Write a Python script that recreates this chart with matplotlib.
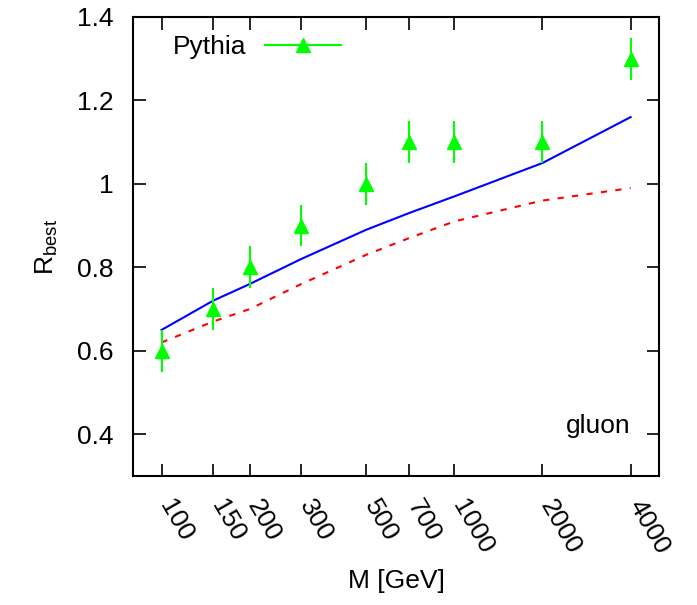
import matplotlib
matplotlib.use('Agg')
import matplotlib.pyplot as plt
import matplotlib.transforms as mtransforms
from matplotlib.lines import Line2D

plt.rcParams['font.family'] = ['Liberation Sans', 'DejaVu Sans']

# masses in GeV
mass = [100, 150, 200, 300, 500, 700, 1000, 2000, 4000]
tick_labels = ['100', '150', '200', '300', '500', '700', '1000', '2000', '4000']

# curves
r_solid = [0.65, 0.72, 0.76, 0.82, 0.89, 0.93, 0.97, 1.05, 1.16]
r_dashed = [0.62, 0.67, 0.70, 0.76, 0.83, 0.87, 0.91, 0.96, 0.99]

# pythia points
r_pythia = [0.60, 0.70, 0.80, 0.90, 1.00, 1.10, 1.10, 1.10, 1.30]
r_pythia_err = [0.05, 0.05, 0.05, 0.05, 0.05, 0.05, 0.05, 0.05, 0.05]

fig = plt.figure(figsize=(6.97, 6.05), dpi=100)
ax = fig.add_axes([0.191, 0.2132, 0.7545, 0.7588])

ax.plot(mass, r_solid, color='#0000ff', lw=1.5)
ax.plot(mass, r_dashed, color='#ff0000', lw=1.5, dashes=(3, 4))
ax.errorbar(mass, r_pythia, yerr=r_pythia_err, fmt='^', color='#00ff00',
            ms=10, elinewidth=1.5, capsize=0)

ax.set_xscale('log')
ax.set_xlim(80, 5000)
ax.set_ylim(0.3, 1.4)
ax.set_xticks(mass)
ax.xaxis.set_minor_locator(matplotlib.ticker.NullLocator())
ax.set_xticklabels(tick_labels, rotation=-60, ha='left', va='top',
                   rotation_mode='anchor')
ax.set_yticks([0.4, 0.6, 0.8, 1.0, 1.2, 1.4])
ax.set_yticklabels(['0.4', '0.6', '0.8', '1', '1.2', '1.4'])
ax.tick_params(direction='in', length=9, width=1.2, top=True, right=True,
               labelsize=19, pad=14)
ax.tick_params(axis='x', pad=14)
for s in ax.spines.values():
    s.set_linewidth(1.5)

# nudge rotated labels right so they start at the tick
shift = mtransforms.ScaledTranslation(10 / 72, 0, fig.dpi_scale_trans)
for lbl in ax.get_xticklabels():
    lbl.set_transform(lbl.get_transform() + shift)

ax.set_xlabel('M [GeV]', fontsize=19, labelpad=8)
ax.set_ylabel(r'R$_{\mathregular{best}}$', fontsize=19, labelpad=12)

ax.text(0.945, 0.11, 'gluon', transform=ax.transAxes, ha='right', va='center',
        fontsize=19)

handle = Line2D([], [], color='#00ff00', lw=1.5, marker='^', ms=10)
ax.legend([handle], ['Pythia'], loc='upper left', frameon=False, fontsize=19,
          markerfirst=False, handlelength=2.9, borderaxespad=0.2,
          bbox_to_anchor=(0.045, 0.995), handletextpad=0.7)

plt.savefig('out.png', dpi=100)
